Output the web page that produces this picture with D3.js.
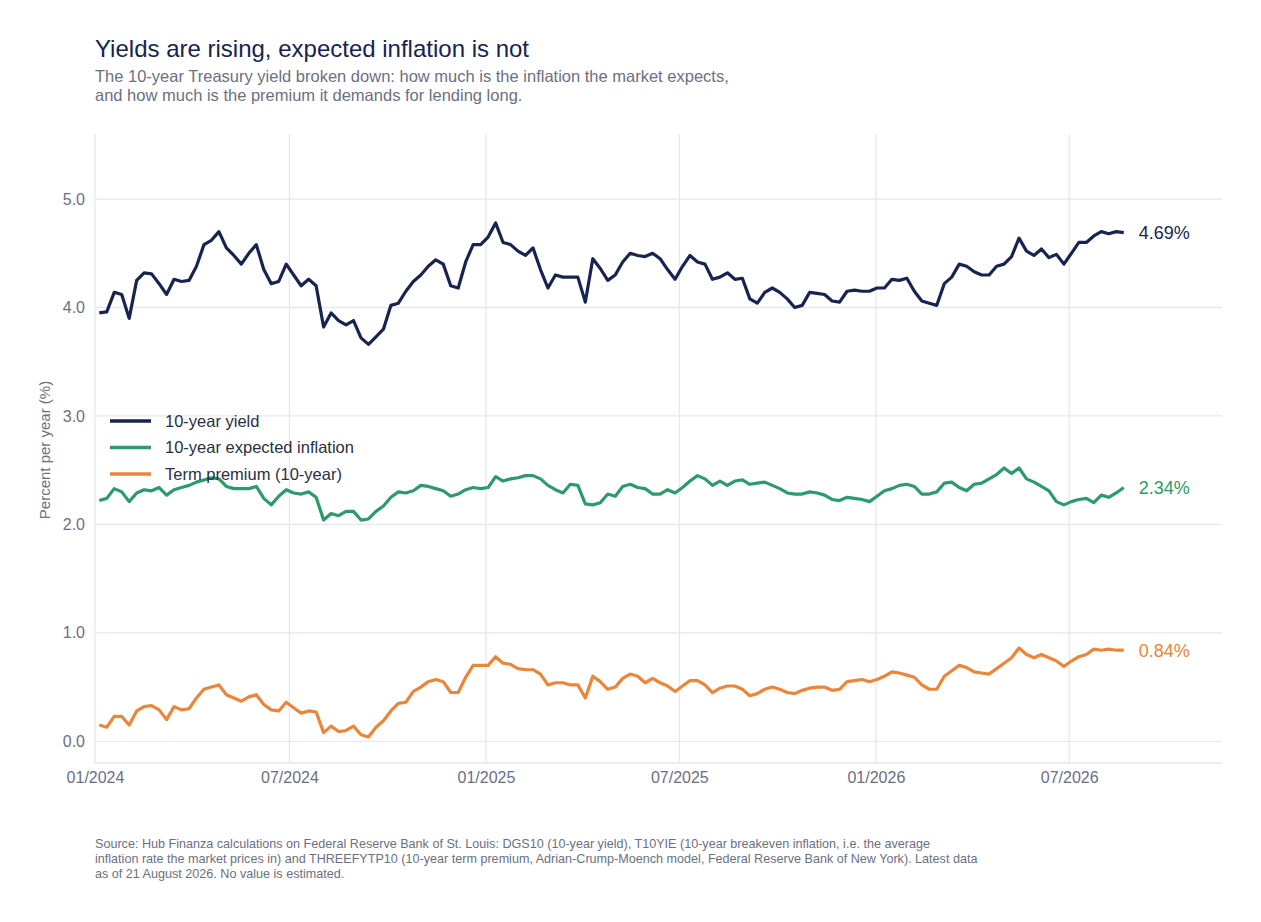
<!DOCTYPE html>
<html>
<head>
<meta charset="utf-8">
<script src="https://cdn.jsdelivr.net/npm/d3@7"></script>
<style>
  body { margin: 0; background: #fff; font-family: "Liberation Sans", Arial, sans-serif; }
</style>
</head>
<body>
<div id="chart"></div>
<script>
// weekly observations, last one on 21 Aug 2026
const lastDate = '2026-08-21';
const yield10 = [3.95,3.96,4.14,4.12,3.90,4.25,4.32,4.31,4.22,4.12,4.26,4.24,4.25,4.38,4.58,4.62,4.70,4.55,4.48,4.40,
  4.50,4.58,4.35,4.22,4.24,4.40,4.30,4.20,4.26,4.20,3.82,3.95,3.88,3.84,3.88,3.72,3.66,3.73,3.80,4.02,
  4.04,4.15,4.24,4.30,4.38,4.44,4.40,4.20,4.18,4.42,4.58,4.58,4.65,4.78,4.60,4.58,4.52,4.48,4.55,4.35,
  4.18,4.30,4.28,4.28,4.28,4.05,4.45,4.36,4.25,4.30,4.42,4.50,4.48,4.47,4.50,4.45,4.35,4.26,4.38,4.48,
  4.42,4.40,4.26,4.28,4.32,4.26,4.27,4.08,4.04,4.14,4.18,4.14,4.08,4.00,4.02,4.14,4.13,4.12,4.06,4.05,
  4.15,4.16,4.15,4.15,4.18,4.18,4.26,4.25,4.27,4.15,4.06,4.04,4.02,4.22,4.28,4.40,4.38,4.33,4.30,4.30,
  4.38,4.40,4.47,4.64,4.52,4.48,4.54,4.46,4.49,4.40,4.50,4.60,4.60,4.66,4.70,4.68,4.70,4.69];
const inflation10 = [2.22,2.24,2.33,2.30,2.21,2.29,2.32,2.31,2.34,2.27,2.32,2.34,2.36,2.39,2.41,2.43,2.42,2.35,2.33,2.33,
  2.33,2.35,2.24,2.18,2.26,2.32,2.29,2.28,2.30,2.25,2.04,2.10,2.08,2.12,2.12,2.04,2.05,2.12,2.17,2.25,
  2.30,2.29,2.31,2.36,2.35,2.33,2.31,2.26,2.28,2.32,2.34,2.33,2.34,2.44,2.40,2.42,2.43,2.45,2.45,2.42,
  2.36,2.32,2.29,2.37,2.36,2.19,2.18,2.20,2.28,2.26,2.35,2.37,2.34,2.33,2.28,2.28,2.32,2.29,2.34,2.40,
  2.45,2.42,2.36,2.40,2.36,2.40,2.41,2.37,2.38,2.39,2.36,2.33,2.29,2.28,2.28,2.30,2.29,2.27,2.23,2.22,
  2.25,2.24,2.23,2.21,2.26,2.31,2.33,2.36,2.37,2.35,2.28,2.28,2.30,2.38,2.39,2.34,2.31,2.37,2.38,2.42,
  2.46,2.52,2.47,2.52,2.42,2.39,2.35,2.31,2.21,2.18,2.21,2.23,2.24,2.20,2.27,2.25,2.29,2.34];
const termPremium = [0.15,0.13,0.23,0.23,0.15,0.28,0.32,0.33,0.29,0.20,0.32,0.29,0.30,0.40,0.48,0.50,0.52,0.43,0.40,0.37,
  0.41,0.43,0.34,0.29,0.28,0.36,0.31,0.26,0.28,0.27,0.08,0.14,0.09,0.10,0.14,0.06,0.04,0.13,0.19,0.28,
  0.35,0.36,0.46,0.50,0.55,0.57,0.55,0.45,0.45,0.59,0.70,0.70,0.70,0.78,0.72,0.71,0.67,0.66,0.66,0.62,
  0.52,0.54,0.54,0.52,0.52,0.40,0.60,0.55,0.48,0.50,0.58,0.62,0.60,0.54,0.58,0.54,0.51,0.46,0.51,0.56,
  0.56,0.52,0.45,0.49,0.51,0.51,0.48,0.42,0.44,0.48,0.50,0.48,0.45,0.44,0.47,0.49,0.50,0.50,0.47,0.48,
  0.55,0.56,0.57,0.55,0.57,0.60,0.64,0.63,0.61,0.59,0.52,0.48,0.48,0.60,0.65,0.70,0.68,0.64,0.63,0.62,
  0.67,0.72,0.77,0.86,0.80,0.77,0.80,0.77,0.74,0.69,0.74,0.78,0.80,0.85,0.84,0.85,0.84,0.84];
const yTicks = [0, 1, 2, 3, 4, 5];
const xTickDates = ['2024-01-01','2024-07-01','2025-01-01','2025-07-01','2026-01-01','2026-07-01'];

const seriesList = [
  { name: '10-year yield', values: yield10, color: '#17244f' },
  { name: '10-year expected inflation', values: inflation10, color: '#2c9a6a' },
  { name: 'Term premium (10-year)', values: termPremium, color: '#ea853a' }
];

const parse = d3.utcParse('%Y-%m-%d');
const endDate = parse(lastDate);
const n = yield10.length;
const dates = d3.range(n).map(i => d3.utcDay.offset(endDate, -7 * (n - 1 - i)));

const width = 1261, height = 922;
const m = { left: 95, right: 1222, top: 134, bottom: 763 };

const svg = d3.select('#chart').append('svg')
  .attr('width', width).attr('height', height);

const x = d3.scaleUtc().domain([parse('2024-01-01'), parse('2026-11-21')]).range([m.left, m.right]);
const y = d3.scaleLinear().domain([-0.2, 5.6]).range([m.bottom, m.top]);

// grid
svg.append('g').selectAll('line').data(yTicks).join('line')
  .attr('x1', m.left).attr('x2', m.right)
  .attr('y1', d => y(d)).attr('y2', d => y(d))
  .attr('stroke', '#e6e8ef').attr('stroke-width', 1.3);
svg.append('g').selectAll('line').data(xTickDates.map(parse)).join('line')
  .attr('x1', d => x(d)).attr('x2', d => x(d))
  .attr('y1', m.top).attr('y2', m.bottom)
  .attr('stroke', '#e6e8ef').attr('stroke-width', 1.3);
svg.append('line').attr('x1', m.left).attr('x2', m.right).attr('y1', m.bottom).attr('y2', m.bottom)
  .attr('stroke', '#e6e8ef').attr('stroke-width', 1.3);

// axes labels
const yAxis = svg.append('g').attr('transform', `translate(${m.left - 7},0)`)
  .call(d3.axisLeft(y).tickValues(yTicks).tickFormat(d3.format('.1f')).tickSize(0));
yAxis.select('.domain').remove();
yAxis.selectAll('text').attr('fill', '#6b7080').attr('font-size', 16).attr('font-family', '"Liberation Sans", Arial, sans-serif');

const xAxis = svg.append('g').attr('transform', `translate(0,${m.bottom + 6})`)
  .call(d3.axisBottom(x).tickValues(xTickDates.map(parse)).tickFormat(d3.utcFormat('%m/%Y')).tickSize(0));
xAxis.select('.domain').remove();
xAxis.selectAll('text').attr('fill', '#6b7080').attr('font-size', 16).attr('font-family', '"Liberation Sans", Arial, sans-serif');

svg.append('text')
  .attr('transform', `translate(50,450) rotate(-90)`)
  .attr('text-anchor', 'middle')
  .attr('fill', '#6b7080').attr('font-size', 15)
  .text('Percent per year (%)');

// lines
const line = d3.line().x((d, i) => x(dates[i])).y(d => y(d)).curve(d3.curveLinear);
seriesList.forEach(s => {
  svg.append('path').datum(s.values)
    .attr('d', line)
    .attr('fill', 'none')
    .attr('stroke', s.color)
    .attr('stroke-width', 3.2)
    .attr('stroke-linejoin', 'round');
  const last = s.values[s.values.length - 1];
  svg.append('text')
    .attr('x', x(endDate) + 15).attr('y', y(last))
    .attr('dy', '0.35em')
    .attr('fill', s.color).attr('font-size', 18)
    .text(d3.format('.2f')(last) + '%');
});

// legend
const legend = svg.append('g').attr('transform', 'translate(110,421)');
seriesList.forEach((s, i) => {
  const g = legend.append('g').attr('transform', `translate(0,${i * 26.5})`);
  g.append('line').attr('x1', 0).attr('x2', 41).attr('stroke', s.color).attr('stroke-width', 3.5);
  g.append('text').attr('x', 55).attr('dy', '0.35em')
    .attr('fill', '#2a2f3f').attr('font-size', 16.5).text(s.name);
});

// titles
svg.append('text').attr('x', 95).attr('y', 57)
  .attr('fill', '#17244f').attr('font-size', 24).text('Yields are rising, expected inflation is not');
['The 10-year Treasury yield broken down: how much is the inflation the market expects,',
 'and how much is the premium it demands for lending long.'].forEach((t, i) => {
  svg.append('text').attr('x', 95).attr('y', 82 + i * 19)
    .attr('fill', '#6b7080').attr('font-size', 16.5).text(t);
});

// source
['Source: Hub Finanza calculations on Federal Reserve Bank of St. Louis: DGS10 (10-year yield), T10YIE (10-year breakeven inflation, i.e. the average',
 'inflation rate the market prices in) and THREEFYTP10 (10-year term premium, Adrian-Crump-Moench model, Federal Reserve Bank of New York). Latest data',
 'as of 21 August 2026. No value is estimated.'].forEach((t, i) => {
  svg.append('text').attr('x', 95).attr('y', 848 + i * 15)
    .attr('fill', '#6b7080').attr('font-size', 12.6).text(t);
});
</script>
</body>
</html>
